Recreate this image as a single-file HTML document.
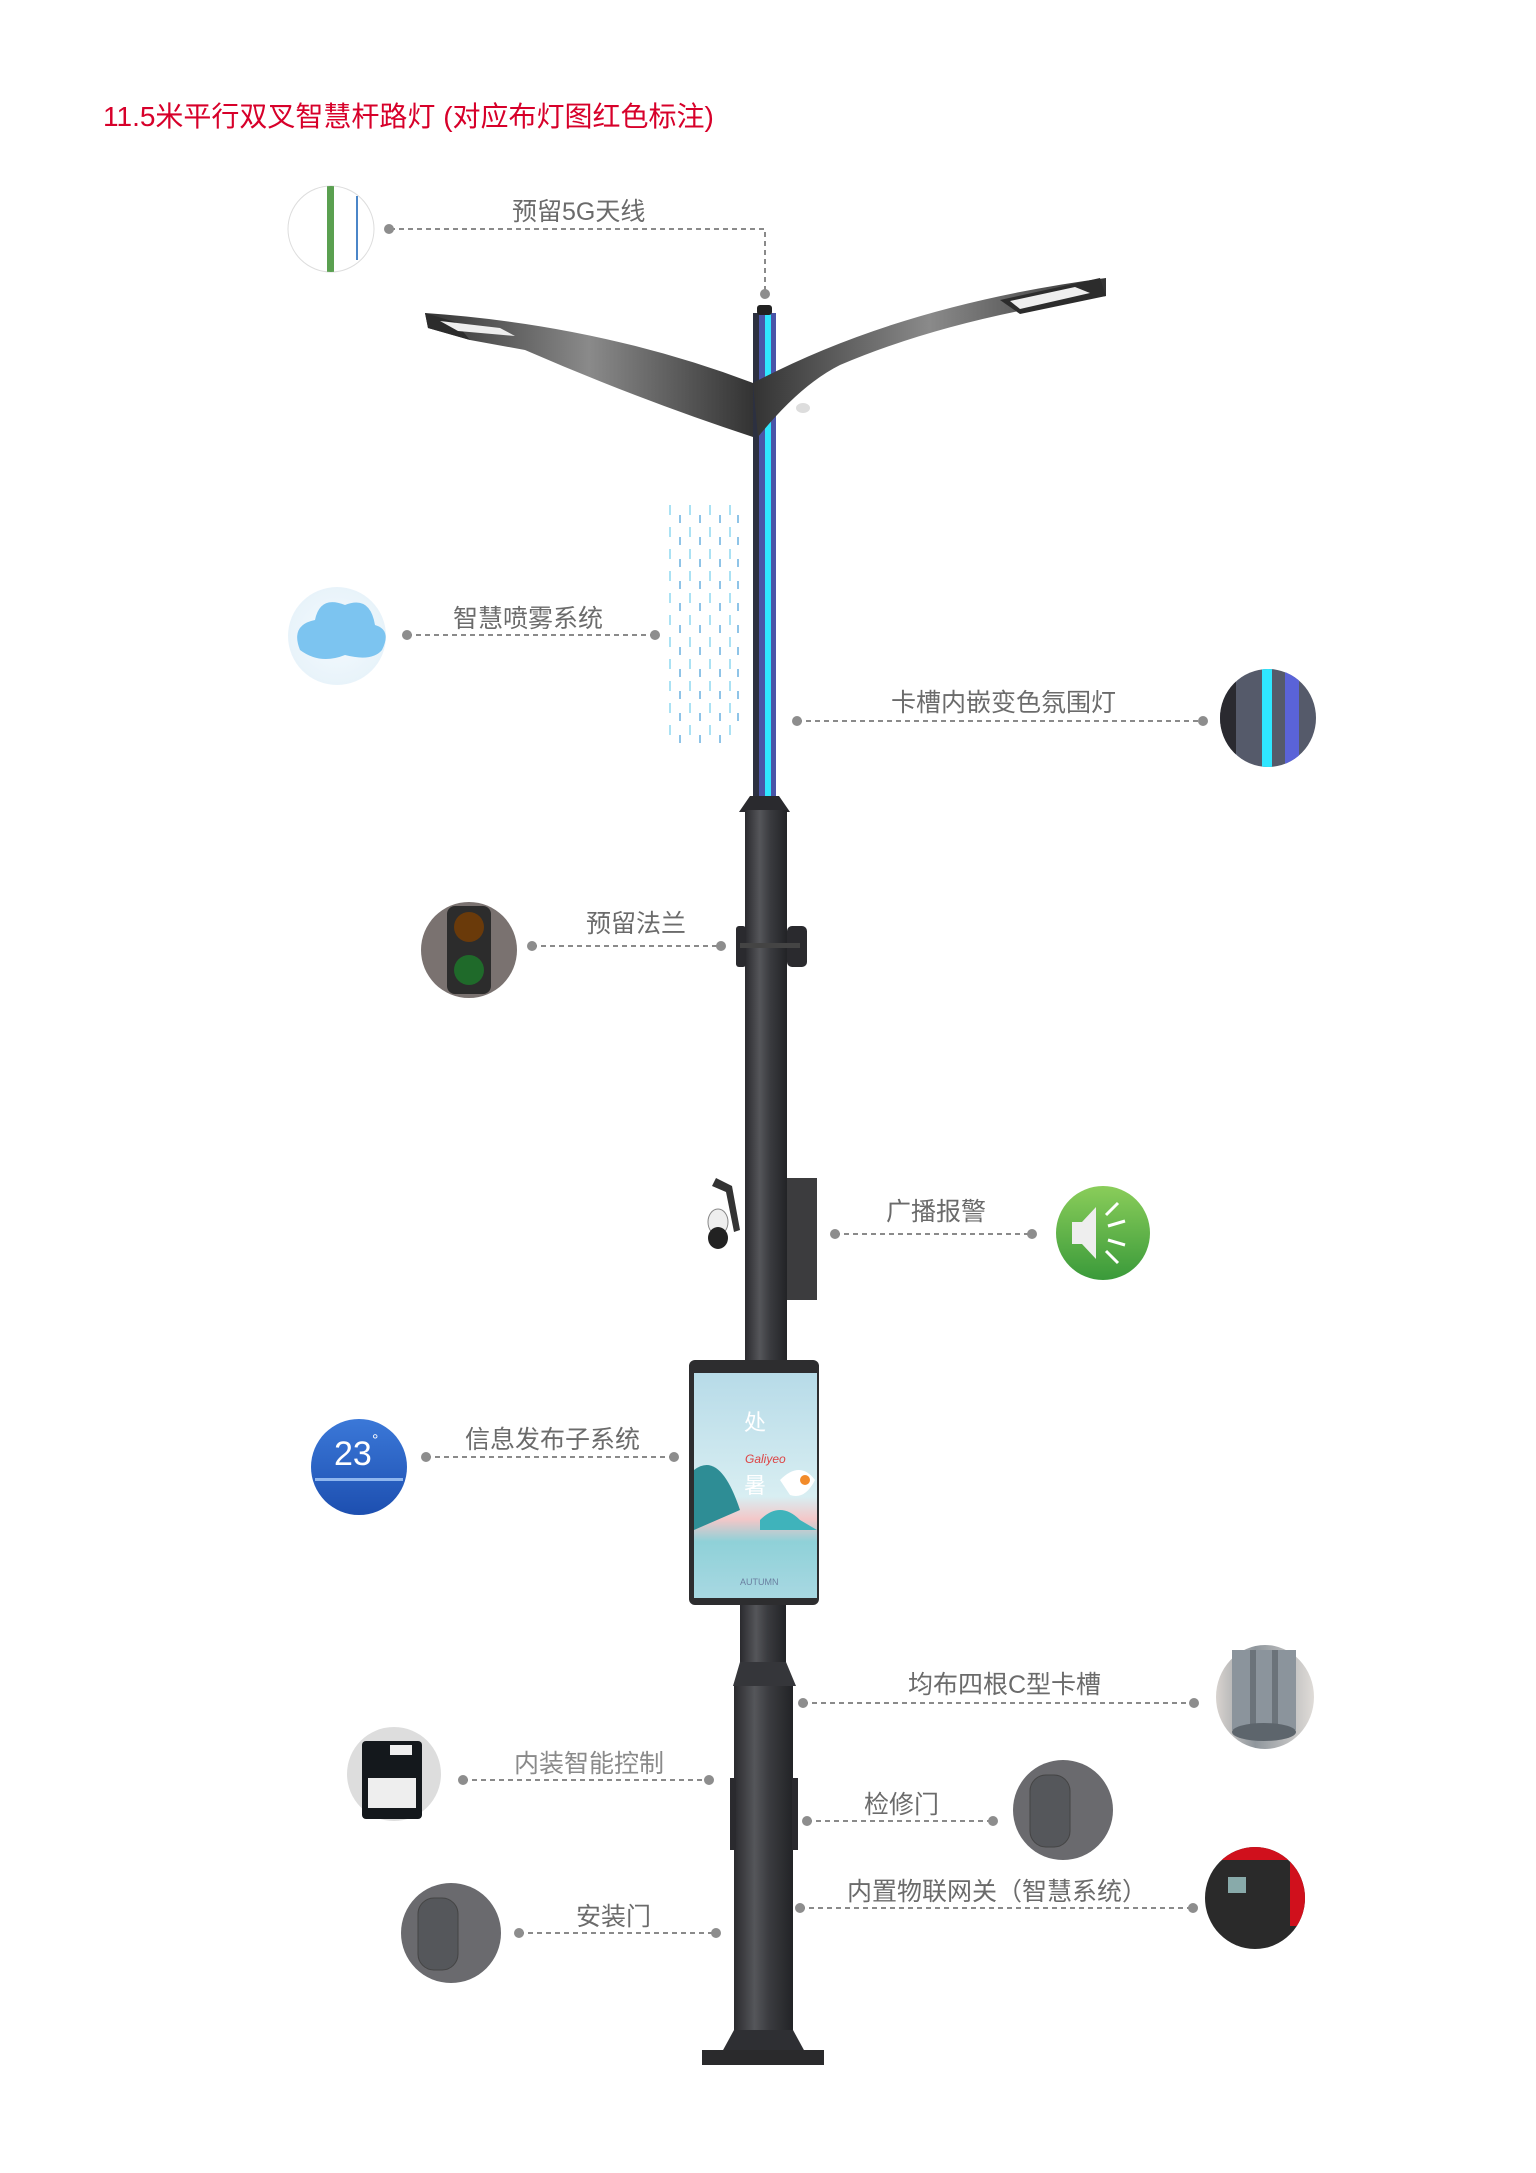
<!DOCTYPE html>
<html><head><meta charset="utf-8"><style>
html,body{margin:0;padding:0;background:#fff}
svg{display:block}
text{font-family:"Liberation Sans","Noto Sans CJK SC",sans-serif}
.lb{fill:#6b6b6b;font-size:25px}
.ln{stroke:#8a8a8a;stroke-width:2;stroke-dasharray:5 4;fill:none}
.dt{fill:#8d8d8d}
</style></head><body>
<svg width="1536" height="2173" viewBox="0 0 1536 2173" xmlns="http://www.w3.org/2000/svg">
<defs>
<linearGradient id="pole" x1="0" x2="1"><stop offset="0" stop-color="#2a2a2e"/><stop offset=".35" stop-color="#55565a"/><stop offset=".6" stop-color="#3a3b3f"/><stop offset="1" stop-color="#222326"/></linearGradient>
<linearGradient id="arm" x1="0" x2="1"><stop offset="0" stop-color="#333"/><stop offset=".5" stop-color="#8a8a8a"/><stop offset="1" stop-color="#333"/></linearGradient>
<linearGradient id="scr" x1="0" y1="0" x2="0" y2="1"><stop offset="0" stop-color="#b7dbe8"/><stop offset=".55" stop-color="#d8eef2"/><stop offset=".65" stop-color="#f3c7c8"/><stop offset=".75" stop-color="#8fd1d8"/><stop offset="1" stop-color="#a8d8e2"/></linearGradient>
<radialGradient id="cloud"><stop offset="0" stop-color="#f4fafe"/><stop offset="1" stop-color="#e8f3fa"/></radialGradient>
<linearGradient id="grn" x1="0" y1="0" x2="0" y2="1"><stop offset="0" stop-color="#8acd5a"/><stop offset="1" stop-color="#3a9a3a"/></linearGradient>
<linearGradient id="blu" x1="0" y1="0" x2="0" y2="1"><stop offset="0" stop-color="#3b78d8"/><stop offset="1" stop-color="#1d4fb0"/></linearGradient>
<linearGradient id="gr2" x1="0" x2="1"><stop offset="0" stop-color="#d8d3cf"/><stop offset=".4" stop-color="#8f969c"/><stop offset="1" stop-color="#e0dcd8"/></linearGradient>
<clipPath id="c1"><ellipse cx="1268" cy="718" rx="48" ry="49"/></clipPath>
<clipPath id="c2"><ellipse cx="1255" cy="1898" rx="50" ry="51"/></clipPath>
<clipPath id="c3"><ellipse cx="331" cy="229" rx="43" ry="43"/></clipPath>
</defs>

<text x="103" y="126" font-size="28" fill="#d7002a">11.5米平行双叉智慧杆路灯 (对应布灯图红色标注)</text>

<rect x="753" y="313" width="23" height="490" fill="#4a55a8"/>
<rect x="753" y="313" width="6" height="490" fill="#2c3040"/>
<rect x="765" y="313" width="6" height="490" fill="#2fe6ff"/>
<rect x="757" y="305" width="15" height="10" rx="3" fill="#222"/>
<!-- lamp arms -->
<path d="M425 313 Q600 325 753 383 L753 437 Q640 400 525 350 L470 340 L428 328 Z" fill="url(#arm)"/>
<path d="M425 313 L428 328 L470 340 L455 322 Z" fill="#2c2c2c"/>
<path d="M440 321 L500 328 L515 336 L458 331 Z" fill="#eee"/>
<path d="M1106 278 Q900 305 753 383 L758 437 Q800 385 840 365 Q950 318 1106 296 Z" fill="url(#arm)"/>
<path d="M1000 300 L1100 278 L1106 296 L1020 314 Z" fill="#2c2c2c"/>
<path d="M1010 301 L1075 287 L1090 293 L1020 309 Z" fill="#eee"/>
<ellipse cx="803" cy="408" rx="7" ry="5" fill="#ddd"/>
<path d="M750 796 L779 796 L790 812 L739 812 Z" fill="#2a2a2e"/>
<rect x="745" y="810" width="42" height="555" fill="url(#pole)"/>
<rect x="736" y="926" width="10" height="41" rx="3" fill="#2a2a2e"/>
<rect x="787" y="926" width="20" height="41" rx="5" fill="#2a2a2e"/>
<rect x="740" y="943" width="60" height="5" fill="#444"/>
<path d="M716 1178 L732 1186 L740 1230 L734 1232 L726 1192 L712 1186 Z" fill="#333"/>
<ellipse cx="718" cy="1222" rx="10" ry="13" fill="#eee" stroke="#888"/>
<ellipse cx="718" cy="1238" rx="10" ry="11" fill="#222"/>
<rect x="787" y="1178" width="30" height="122" fill="#3c3c3e"/>
<rect x="689" y="1360" width="130" height="245" rx="6" fill="#2d2d2f"/>
<rect x="694" y="1373" width="123" height="225" fill="url(#scr)"/>
<path d="M694 1470 Q720 1450 740 1510 L694 1530 Z" fill="#2e8d95"/>
<path d="M760 1520 Q780 1500 800 1520 L817 1530 L760 1530 Z" fill="#3fb3bb"/>
<path d="M780 1480 Q800 1460 815 1480 Q805 1500 790 1495 Z" fill="#fff"/>
<circle cx="805" cy="1480" r="5" fill="#f28b2a"/>
<text x="755" y="1430" font-size="22" fill="#fff" text-anchor="middle">处</text>
<text x="755" y="1493" font-size="22" fill="#fff" text-anchor="middle">暑</text>
<text x="745" y="1463" font-size="12" fill="#d44" font-style="italic">Galiyeo</text>
<text x="740" y="1585" font-size="9" fill="#6a7fa0">AUTUMN</text>
<rect x="740" y="1605" width="46" height="60" fill="url(#pole)"/>
<path d="M740 1662 L786 1662 L796 1686 L733 1686 Z" fill="#35363a"/>
<rect x="734" y="1686" width="59" height="350" fill="url(#pole)"/>
<rect x="730" y="1778" width="6" height="72" fill="#2a2a2e"/>
<rect x="792" y="1778" width="6" height="72" fill="#2a2a2e"/>
<path d="M734 2030 L793 2030 L805 2052 L722 2052 Z" fill="#2e2f33"/>
<rect x="702" y="2050" width="122" height="15" fill="#2a2a2c"/>

<g stroke-width="1.5" fill="none">
<g stroke="#8fd8f0"><path d="M670 505 v230 M690 505 v230 M710 505 v230 M730 505 v230" stroke-dasharray="10 12"/></g>
<g stroke="#6ab0e0"><path d="M680 515 v230 M700 515 v230 M720 515 v230 M738 515 v220" stroke-dasharray="8 14"/></g>
</g>

<ellipse cx="331" cy="229" rx="43" ry="43" fill="#fff" stroke="#ddd"/>
<g clip-path="url(#c3)"><rect x="327" y="186" width="7" height="86" fill="#5aa050"/></g>
<line x1="357" y1="196" x2="357" y2="260" stroke="#4b86c8" stroke-width="2"/>
<text class="lb" x="512" y="220">预留5G天线</text>
<path class="ln" d="M390 229 H765 V290"/>
<circle class="dt" cx="389" cy="229" r="5"/><circle class="dt" cx="765" cy="294" r="5"/>
<circle cx="337" cy="636" r="49" fill="url(#cloud)"/>
<path d="M300 650 Q290 625 315 620 Q320 595 345 605 Q370 595 375 625 Q392 630 382 650 Q372 662 345 655 Q320 665 300 650 Z" fill="#7cc4f0"/>
<text class="lb" x="453" y="627" font-size="21">智慧喷雾系统</text>
<line class="ln" x1="407" y1="635" x2="655" y2="635"/>
<circle class="dt" cx="407" cy="635" r="5"/><circle class="dt" cx="655" cy="635" r="5"/>
<g clip-path="url(#c1)">
<rect x="1218" y="668" width="100" height="100" fill="#555a6a"/>
<rect x="1218" y="668" width="18" height="100" fill="#2a2a30"/>
<rect x="1262" y="668" width="10" height="100" fill="#2fe6ff"/>
<rect x="1285" y="668" width="14" height="100" fill="#5a63d8"/>
</g>
<text class="lb" x="891" y="711">卡槽内嵌变色氛围灯</text>
<line class="ln" x1="797" y1="721" x2="1203" y2="721"/>
<circle class="dt" cx="797" cy="721" r="5"/><circle class="dt" cx="1203" cy="721" r="5"/>
<ellipse cx="469" cy="950" rx="48" ry="48" fill="#7a7270"/>
<rect x="447" y="906" width="44" height="88" rx="8" fill="#2c2c2c"/>
<circle cx="469" cy="927" r="15" fill="#6a3a0a"/>
<circle cx="469" cy="970" r="15" fill="#1f6a2a"/>
<text class="lb" x="586" y="932" font-size="21">预留法兰</text>
<line class="ln" x1="532" y1="946" x2="721" y2="946"/>
<circle class="dt" cx="532" cy="946" r="5"/><circle class="dt" cx="721" cy="946" r="5"/>
<ellipse cx="1103" cy="1233" rx="47" ry="47" fill="url(#grn)"/>
<path d="M1072 1222 h10 l14 -15 v52 l-14 -15 h-10 z" fill="#eee"/>
<g stroke="#fff" stroke-width="3"><line x1="1106" y1="1215" x2="1118" y2="1203"/><line x1="1108" y1="1226" x2="1125" y2="1221"/><line x1="1108" y1="1240" x2="1125" y2="1245"/><line x1="1106" y1="1251" x2="1118" y2="1263"/></g>
<text class="lb" x="886" y="1220">广播报警</text>
<line class="ln" x1="835" y1="1234" x2="1032" y2="1234"/>
<circle class="dt" cx="835" cy="1234" r="5"/><circle class="dt" cx="1032" cy="1234" r="5"/>
<ellipse cx="359" cy="1467" rx="48" ry="48" fill="url(#blu)"/>
<text x="334" y="1465" font-size="34" fill="#fff">23</text>
<text x="372" y="1445" font-size="16" fill="#fff">°</text>
<rect x="315" y="1478" width="88" height="3" fill="#8fb6ee"/>
<text class="lb" x="465" y="1448">信息发布子系统</text>
<line class="ln" x1="426" y1="1457" x2="674" y2="1457"/>
<circle class="dt" cx="426" cy="1457" r="5"/><circle class="dt" cx="674" cy="1457" r="5"/>
<ellipse cx="1265" cy="1697" rx="49" ry="52" fill="url(#gr2)"/>
<rect x="1232" y="1650" width="64" height="80" fill="#8b949c"/>
<rect x="1250" y="1650" width="6" height="80" fill="#6b737a"/><rect x="1272" y="1650" width="6" height="80" fill="#6b737a"/>
<ellipse cx="1264" cy="1732" rx="32" ry="9" fill="#5d656c"/>
<text class="lb" x="908" y="1693">均布四根C型卡槽</text>
<line class="ln" x1="803" y1="1703" x2="1194" y2="1703"/>
<circle class="dt" cx="803" cy="1703" r="5"/><circle class="dt" cx="1194" cy="1703" r="5"/>
<ellipse cx="394" cy="1774" rx="47" ry="47" fill="#ddd"/>
<rect x="362" y="1741" width="60" height="78" rx="4" fill="#14181c"/>
<rect x="368" y="1778" width="48" height="30" fill="#eee"/>
<rect x="390" y="1745" width="22" height="10" fill="#eee"/>
<text class="lb" x="514" y="1772" style="fill:#8a8a8a">内装智能控制</text>
<line class="ln" x1="463" y1="1780" x2="709" y2="1780"/>
<circle class="dt" cx="463" cy="1780" r="5"/><circle class="dt" cx="709" cy="1780" r="5"/>
<ellipse cx="1063" cy="1810" rx="50" ry="50" fill="#6a6a6e"/>
<rect x="1030" y="1775" width="40" height="72" rx="16" fill="#55575b" stroke="#444"/>
<text class="lb" x="864" y="1813">检修门</text>
<line class="ln" x1="807" y1="1821" x2="993" y2="1821"/>
<circle class="dt" cx="807" cy="1821" r="5"/><circle class="dt" cx="993" cy="1821" r="5"/>
<g clip-path="url(#c2)">
<rect x="1204" y="1846" width="104" height="104" fill="#2a2a2a"/>
<rect x="1204" y="1846" width="104" height="14" fill="#d0101c"/>
<rect x="1290" y="1846" width="18" height="80" fill="#d0101c"/>
<rect x="1228" y="1877" width="18" height="16" fill="#8aa"/>
</g>
<text class="lb" x="847" y="1900">内置物联网关（智慧系统）</text>
<line class="ln" x1="800" y1="1908" x2="1193" y2="1908"/>
<circle class="dt" cx="800" cy="1908" r="5"/><circle class="dt" cx="1193" cy="1908" r="5"/>
<ellipse cx="451" cy="1933" rx="50" ry="50" fill="#6a6a6e"/>
<rect x="418" y="1898" width="40" height="72" rx="16" fill="#55575b" stroke="#444"/>
<text class="lb" x="576" y="1925">安装门</text>
<line class="ln" x1="519" y1="1933" x2="716" y2="1933"/>
<circle class="dt" cx="519" cy="1933" r="5"/><circle class="dt" cx="716" cy="1933" r="5"/>
</svg>
</body></html>
